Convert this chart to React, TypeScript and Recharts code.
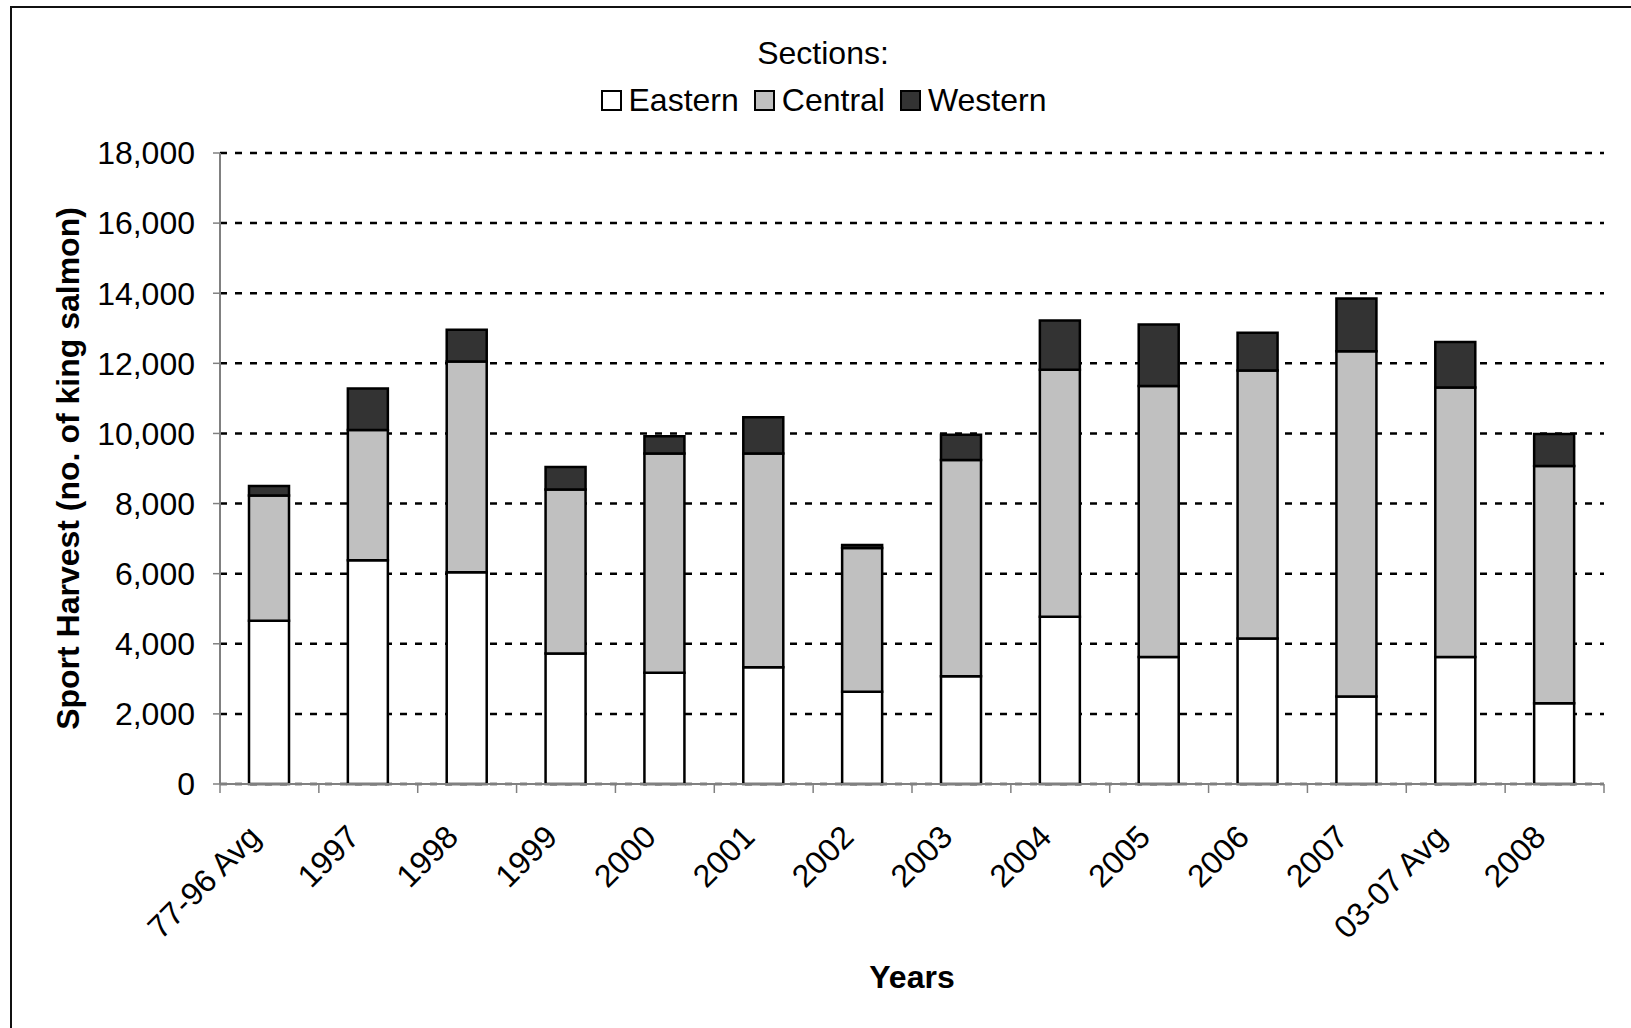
import React from "react";
import {
  BarChart,
  Bar,
  XAxis,
  YAxis,
  CartesianGrid,
} from "recharts";

const categories = [
  "77-96 Avg",
  "1997",
  "1998",
  "1999",
  "2000",
  "2001",
  "2002",
  "2003",
  "2004",
  "2005",
  "2006",
  "2007",
  "03-07 Avg",
  "2008",
];

const eastern = [4660, 6380, 6040, 3720, 3170, 3330, 2630, 3075, 4770, 3620, 4150, 2495, 3620, 2300];
const central = [3570, 3720, 6010, 4680, 6260, 6100, 4100, 6170, 7050, 7730, 7645, 9850, 7690, 6770];
const western = [270, 1180, 905, 640, 490, 1030, 85, 715, 1400, 1760, 1075, 1505, 1295, 915];

const yTicks = [0, 2000, 4000, 6000, 8000, 10000, 12000, 14000, 16000, 18000];

const series = [
  { key: "eastern", name: "Eastern", color: "#FFFFFF" },
  { key: "central", name: "Central", color: "#C0C0C0" },
  { key: "western", name: "Western", color: "#333333" },
];

const data = categories.map((name, i) => ({
  name,
  eastern: eastern[i],
  central: central[i],
  western: western[i],
}));

const FONT = "'Liberation Sans', Arial, sans-serif";
const FS = 32;
const AXIS_GRAY = "#808080";

// ticks sit between categories (Excel style), labels at bar centres
const XTick = (props: any) => {
  const { x, y, payload, index, visibleTicksCount } = props;
  const half = payload && payload.offset ? payload.offset : 49.4;
  const lx = x - 7;
  const ly = y + 55;
  return (
    <g>
      <line x1={x - half} x2={x - half} y1={y} y2={y + 9} stroke={AXIS_GRAY} strokeWidth={1.5} />
      {index === visibleTicksCount - 1 && (
        <line x1={x + half} x2={x + half} y1={y} y2={y + 9} stroke={AXIS_GRAY} strokeWidth={1.5} />
      )}
      <text
        x={lx}
        y={ly}
        textAnchor="end"
        transform={`rotate(-45 ${lx} ${ly})`}
        fontSize={FS}
        fontFamily={FONT}
        fill="#000"
      >
        {payload.value}
      </text>
    </g>
  );
};

export default function App() {
  return (
    <div
      style={{
        position: "absolute",
        left: 0,
        top: 0,
        width: 1631,
        height: 1028,
        overflow: "hidden",
        background: "#fff",
        fontFamily: FONT,
      }}
    >
      <div
        style={{
          position: "absolute",
          left: 10,
          top: 6,
          width: 1700,
          height: 1100,
          border: "2px solid #111",
        }}
      />
      <div
        style={{
          position: "absolute",
          left: 0,
          top: 37,
          width: 1646,
          textAlign: "center",
          fontSize: FS,
          lineHeight: "32px",
          color: "#000",
        }}
      >
        Sections:
      </div>
      <div
        style={{
          position: "absolute",
          left: 0,
          top: 84,
          width: 1662,
          display: "flex",
          justifyContent: "center",
          alignItems: "center",
          fontSize: FS,
          lineHeight: "32px",
          color: "#000",
        }}
      >
        {series.map((s) => (
          <div key={s.key} style={{ display: "flex", alignItems: "center", marginRight: 15 }}>
            <div
              style={{
                width: 17,
                height: 17,
                border: "2px solid #000",
                background: s.color,
                marginRight: 7,
              }}
            />
            <span>{s.name}</span>
          </div>
        ))}
      </div>
      <div style={{ position: "absolute", left: 0, top: 0 }}>
        <BarChart
          width={1631}
          height={1028}
          data={data}
          margin={{ top: 153, right: 27, bottom: 0, left: 100 }}
          barSize={40}
        >
          <CartesianGrid
            vertical={false}
            stroke="#000"
            strokeWidth={2.5}
            strokeDasharray="7 8"
          />
          <XAxis
            dataKey="name"
            interval={0}
            height={244}
            tickLine={false}
            tickSize={0}
            tickMargin={0}
            axisLine={{ stroke: AXIS_GRAY, strokeWidth: 2 }}
            tick={<XTick />}
            label={{
              content: (p: any) => {
                const vb = p.viewBox;
                return (
                  <text
                    x={vb.x + vb.width / 2}
                    y={vb.y + 193}
                    textAnchor="middle"
                    dominantBaseline="central"
                    fontSize={FS}
                    fontWeight="bold"
                    fontFamily={FONT}
                    fill="#000"
                  >
                    Years
                  </text>
                );
              },
            }}
          />
          <YAxis
            width={120}
            domain={[0, 18000]}
            ticks={yTicks}
            interval={0}
            tickSize={7}
            tickMargin={18}
            tickFormatter={(v: number) => v.toLocaleString("en-US")}
            tick={{ fontSize: FS, fill: "#000", fontFamily: FONT }}
            tickLine={{ stroke: AXIS_GRAY, strokeWidth: 1.5 }}
            axisLine={{ stroke: AXIS_GRAY, strokeWidth: 2 }}
            label={{
              content: (p: any) => {
                const vb = p.viewBox;
                const cx = vb.x - 32;
                const cy = vb.y + vb.height / 2;
                return (
                  <text
                    x={cx}
                    y={cy}
                    textAnchor="middle"
                    dominantBaseline="central"
                    transform={`rotate(-90 ${cx} ${cy})`}
                    fontSize={FS}
                    fontWeight="bold"
                    fontFamily={FONT}
                    fill="#000"
                  >
                    Sport Harvest (no. of king salmon)
                  </text>
                );
              },
            }}
          />
          {series.map((s) => (
            <Bar
              key={s.key}
              dataKey={s.key}
              name={s.name}
              stackId="a"
              fill={s.color}
              stroke="#000"
              strokeWidth={2.5}
              isAnimationActive={false}
            />
          ))}
        </BarChart>
      </div>
    </div>
  );
}
